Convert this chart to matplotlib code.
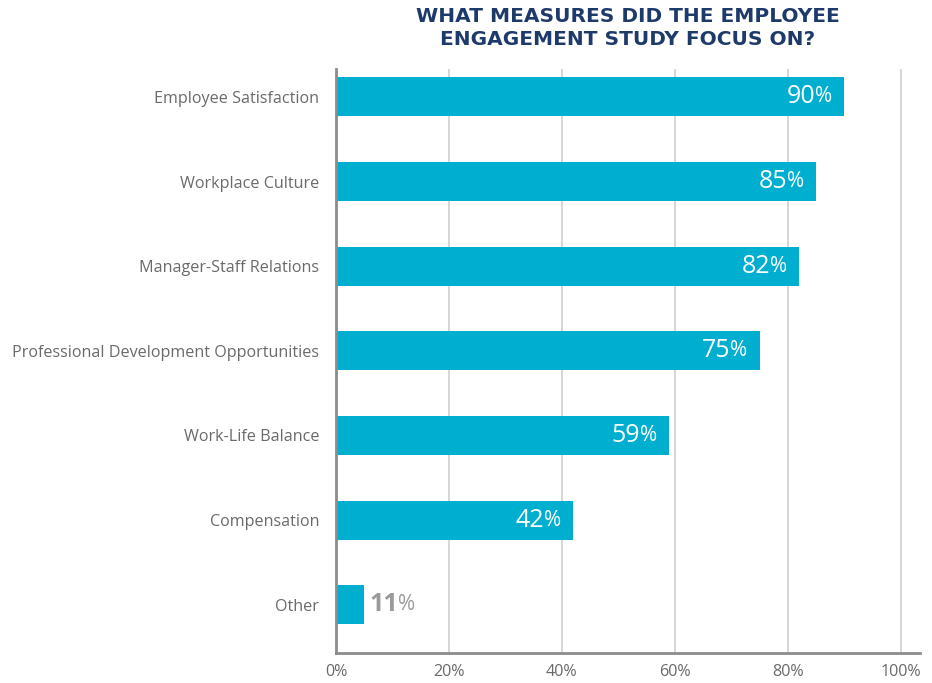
import matplotlib
matplotlib.use("Agg")
import matplotlib.pyplot as plt

plt.rcParams['font.family'] = ['Open Sans', 'DejaVu Sans']

# Data
categories = ["Employee Satisfaction", "Workplace Culture", "Manager-Staff Relations",
              "Professional Development Opportunities", "Work-Life Balance",
              "Compensation", "Other"]
bar_lengths = [90, 85, 82, 75, 59, 42, 5]      # bar ends as drawn
value_labels = [90, 85, 82, 75, 59, 42, 11]    # printed values
x_ticks = [0, 20, 40, 60, 80, 100]

bar_color = "#00AECF"
grid_color = "#d3d3d3"
spine_color = "#8c8c8c"
text_grey = "#6a6a6a"
title_color = "#1e3a6b"

fig = plt.figure(figsize=(9.32, 6.83), dpi=100)
ax = fig.add_axes([336 / 932, (683 - 653) / 683, (920 - 336) / 932, (653 - 69) / 683])

y = list(range(len(categories)))
ax.barh(y, bar_lengths, height=0.46, color=bar_color, zorder=3)

ax.set_xlim(0, 103.4)
ax.set_ylim(6.57, -0.33)
ax.set_xticks(x_ticks)
ax.set_xticklabels([f"{t}%" for t in x_ticks])
ax.set_yticks(y)
ax.set_yticklabels(categories)
ax.tick_params(axis='both', length=0, labelsize=11.6, colors=text_grey)
ax.tick_params(axis='y', pad=12)
ax.tick_params(axis='x', pad=8)
ax.grid(axis='x', color=grid_color, linewidth=1.3, zorder=0)

for side in ['top', 'right']:
    ax.spines[side].set_visible(False)
for side in ['left', 'bottom']:
    ax.spines[side].set_color(spine_color)
    ax.spines[side].set_linewidth(2)
    ax.spines[side].set_zorder(4)

fig.canvas.draw()
renderer = fig.canvas.get_renderer()

# value labels: big number with a smaller percent sign
for yi, length, val in zip(y, bar_lengths, value_labels):
    inside = length > 20
    color = "white" if inside else "#9a9a9a"
    if inside:
        pct = ax.annotate("%", (length, yi), xytext=(-12, 0), textcoords="offset pixels",
                          ha="right", va="center", fontsize=15, color=color, zorder=5)
        w = pct.get_window_extent(renderer).width
        ax.annotate(str(val), (length, yi), xytext=(-12 - w, 0), textcoords="offset pixels",
                    ha="right", va="center", fontsize=18, fontweight="medium",
                    color=color, zorder=5)
    else:
        num = ax.annotate(str(val), (length, yi), xytext=(5, 0), textcoords="offset pixels",
                          ha="left", va="center", fontsize=18, color=color,
                          fontweight="bold", zorder=5)
        w = num.get_window_extent(renderer).width
        ax.annotate("%", (length, yi), xytext=(5 + w, 0), textcoords="offset pixels",
                    ha="left", va="center", fontsize=15, color=color, zorder=5)

fig.text(628 / 932, 1 - 28 / 683, "WHAT MEASURES DID THE EMPLOYEE\nENGAGEMENT STUDY FOCUS ON?",
         ha="center", va="center", fontsize=14.5, fontweight="bold", color=title_color,
         family="DejaVu Sans", linespacing=1.3)

fig.savefig("out.png", dpi=100)
